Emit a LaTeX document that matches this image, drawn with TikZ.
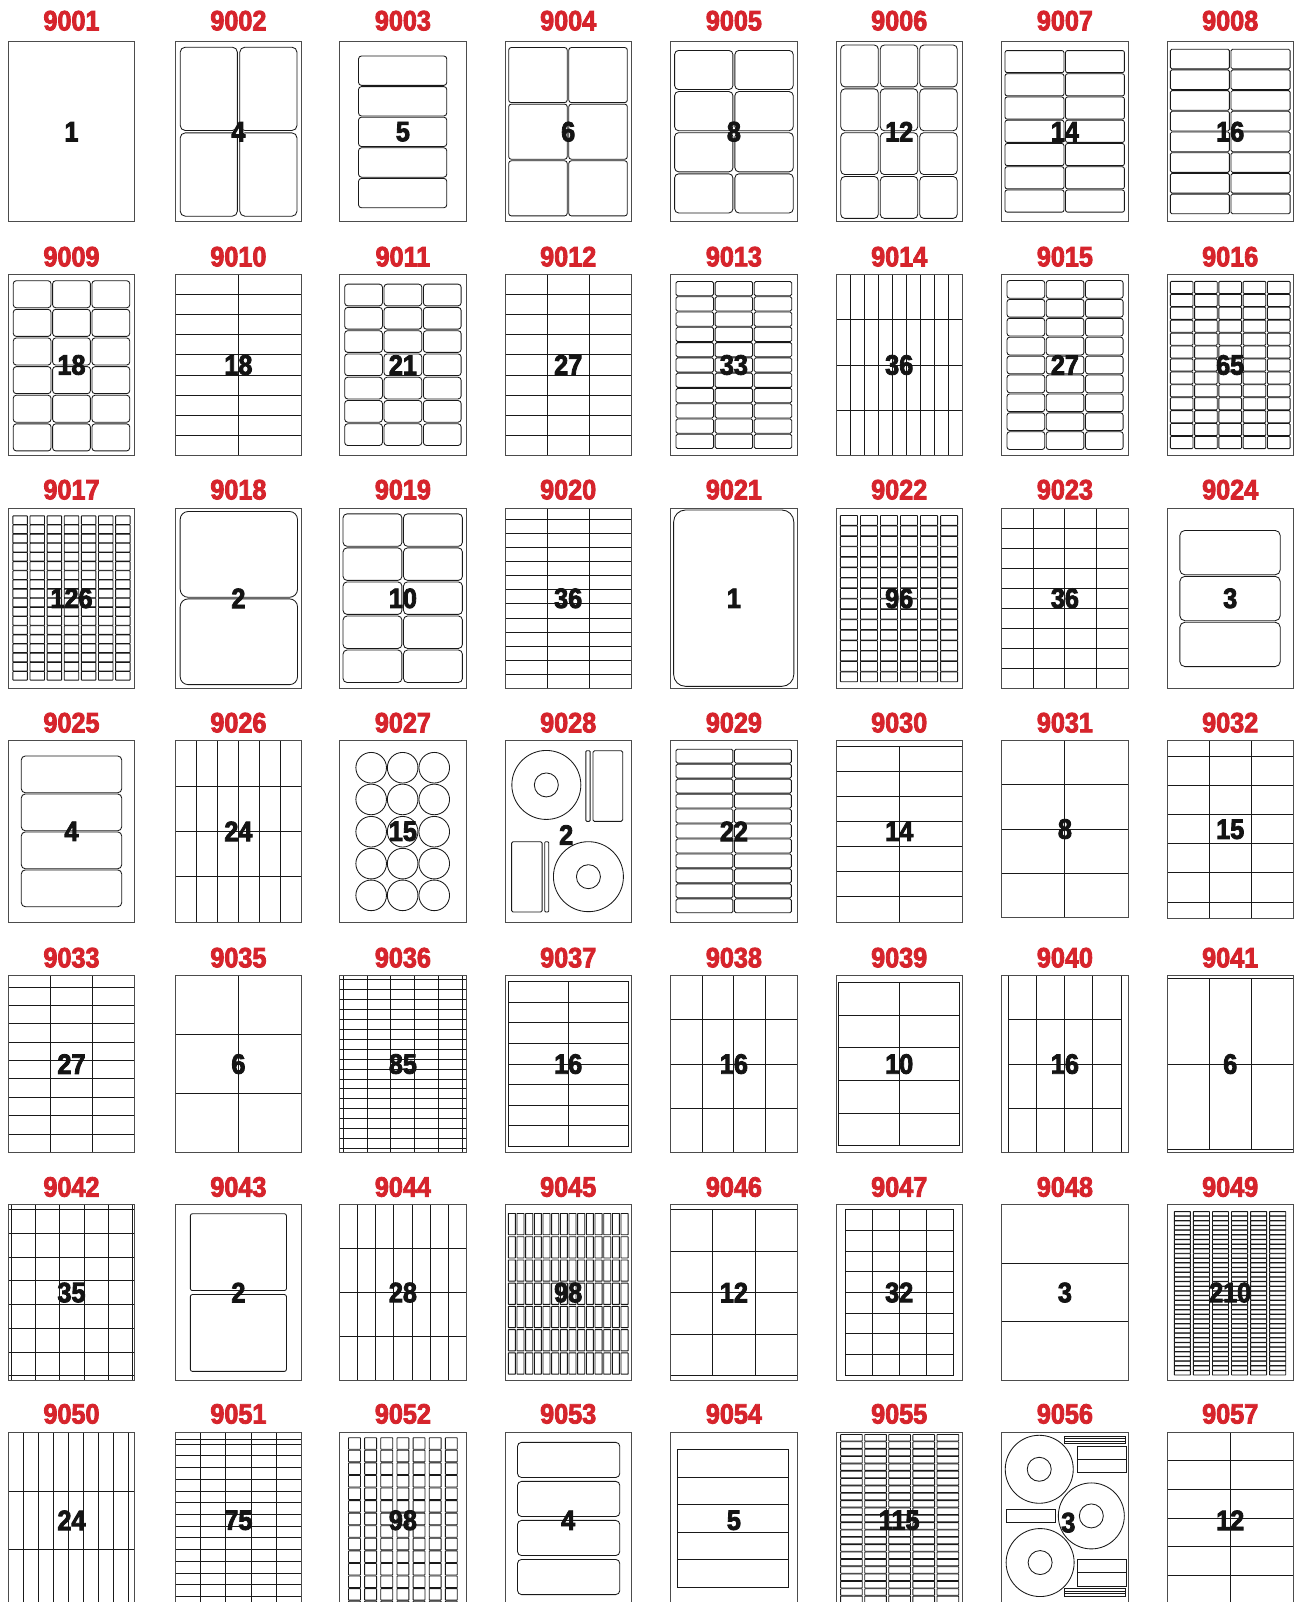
\documentclass[tikz,border=0pt]{standalone}
\usepackage{fontspec}
\usepackage{graphicx}
\usetikzlibrary{calc}
\newfontfamily\numfam{Liberation Sans}[FakeStretch=0.9,FakeBold=3]
\definecolor{ttlred}{RGB}{214,36,44}
\tikzset{
 ln/.style={draw=black!90,line width=0.85pt},
 outer/.style={draw=black!70,line width=1pt},
 ttl/.style={font=\numfam\bfseries\fontsize{28}{28}\selectfont, text=ttlred, inner sep=0pt},
 num/.style={font=\numfam\bfseries\fontsize{28}{28}\selectfont, text=black!92, inner sep=0pt},
}
% single lines (local fractional coordinates)
\newcommand\hl[3]{\draw[ln] (#2,#1) -- (#3,#1);}
\newcommand\vl[3]{\draw[ln] (#1,#2) -- (#1,#3);}
% internal horizontal lines: x0,x1,y0,y1,n
\newcommand\hlines[5]{\pgfmathtruncatemacro\nn{#5-1}%
  \foreach \k in {1,...,\nn}{\draw[ln] (#1,{#3+\k*(#4-#3)/#5}) -- (#2,{#3+\k*(#4-#3)/#5});}}
% internal vertical lines: y0,y1,x0,x1,n
\newcommand\vlines[5]{\pgfmathtruncatemacro\nn{#5-1}%
  \foreach \k in {1,...,\nn}{\draw[ln] ({#3+\k*(#4-#3)/#5},#1) -- ({#3+\k*(#4-#3)/#5},#2);}}
% grid of internal lines: x0,y0,x1,y1,nc,nr
\newcommand\gl[6]{\ifnum#5>1 \vlines{#2}{#4}{#1}{#3}{#5}\fi\ifnum#6>1 \hlines{#1}{#3}{#2}{#4}{#6}\fi}
% array of rounded labels: x0,y0,x1,y1,nc,nr,radius,insetx,insety
\newcommand\labs[9]{%
  \foreach \i in {1,...,#5}{\foreach \j in {1,...,#6}{%
    \draw[ln,rounded corners=#7] ($({#1+(\i-1)*(#3-#1)/#5},{#2+(\j-1)*(#4-#2)/#6})+(#8,-#9)$) rectangle ($({#1+\i*(#3-#1)/#5},{#2+\j*(#4-#2)/#6})+(-#8,#9)$);}}}
% sheet: [H] x0, title, count, body
\newcommand\sheet[5][\rH]{%
  \node[ttl] (t#3) at ({#2+63.2},{\rtop-\rty}) {#3};
  \begin{scope}[shift={(#2pt,-\rtop pt)},x={(126.4pt,0pt)},y={(0pt,-#1 pt)}]
    #5
    \draw[outer] (0,0) rectangle (1,1);
    \node[num] (n#3) at (0.5,0.5) {#4};
  \end{scope}}
\begin{document}
\begin{tikzpicture}[x=1pt,y=-1pt]
\useasboundingbox[fill=white] (0,0) rectangle (1296,1602);
% ---------------- row 1
\def\rtop{41.7}\def\rH{180}\def\rty{21}
\sheet{8.3}{9001}{1}{}
\sheet{175.2}{9002}{4}{\labs{0.03}{0.024}{0.973}{0.976}{2}{2}{5pt}{1.2pt}{1.2pt}}
\sheet{339.7}{9003}{5}{\labs{0.144}{0.076}{0.852}{0.926}{1}{5}{3pt}{0.6pt}{0.6pt}}
\sheet{505}{9004}{6}{\labs{0.023}{0.028}{0.974}{0.972}{2}{3}{2.5pt}{0.8pt}{0.8pt}}
\sheet{670.7}{9005}{8}{\labs{0.023}{0.043}{0.977}{0.957}{2}{4}{4pt}{1pt}{1pt}}
\sheet{836}{9006}{12}{\labs{0.03}{0.013}{0.967}{0.987}{3}{4}{4pt}{1pt}{1pt}}
\sheet{1001.7}{9007}{14}{\labs{0.02}{0.046}{0.977}{0.95}{2}{7}{2pt}{0.8pt}{0.6pt}}
\sheet{1167}{9008}{16}{\labs{0.02}{0.039}{0.98}{0.959}{2}{8}{1.5pt}{0.8pt}{0.5pt}}
% ---------------- row 2
\def\rtop{274.3}\def\rH{181.4}\def\rty{17.6}
\sheet{8.3}{9009}{18}{\labs{0.033}{0.031}{0.967}{0.978}{3}{6}{3pt}{0.8pt}{0.8pt}}
\sheet{175.2}{9010}{18}{\gl{0}{0}{1}{1}{2}{9}}
\sheet{339.7}{9011}{21}{\labs{0.033}{0.05}{0.967}{0.948}{3}{7}{3pt}{0.8pt}{0.8pt}}
\sheet{505}{9012}{27}{\gl{0}{0}{1}{1}{3}{9}}
\sheet{670.7}{9013}{33}{\labs{0.036}{0.037}{0.964}{0.963}{3}{11}{1.5pt}{0.8pt}{0.5pt}}
\sheet{836}{9014}{36}{\gl{0}{0}{1}{1}{9}{4}}
\sheet{1001.7}{9015}{27}{\labs{0.036}{0.031}{0.967}{0.969}{3}{9}{2.5pt}{0.8pt}{0.6pt}}
\sheet{1167}{9016}{65}{\labs{0.02}{0.037}{0.98}{0.963}{5}{13}{1pt}{0.8pt}{0.4pt}}
% ---------------- row 3
\def\rtop{508}\def\rH{180.7}\def\rty{18.3}
\sheet{8.3}{9017}{126}{\labs{0.026}{0.042}{0.974}{0.954}{7}{18}{0.5pt}{1.3pt}{0.25pt}}
\sheet{175.2}{9018}{2}{\labs{0.033}{0.015}{0.974}{0.982}{1}{2}{8pt}{0.8pt}{0.8pt}}
\sheet{339.7}{9019}{10}{\labs{0.02}{0.028}{0.977}{0.97}{2}{5}{4pt}{0.8pt}{0.8pt}}
\sheet{505}{9020}{36}{\vlines{0}{1}{0}{1}{3}\hl{0.061}{0}{1}\hlines{0}{1}{0.061}{1}{12}}
\sheet{670.7}{9021}{1}{\draw[ln,rounded corners=12pt] (0.023,0.011) rectangle (0.974,0.987);}
\sheet{836}{9022}{96}{\labs{0.023}{0.04}{0.974}{0.963}{6}{16}{0.5pt}{1.5pt}{0.3pt}}
\sheet{1001.7}{9023}{36}{\gl{0}{0}{1}{1}{4}{9}}
\sheet{1167}{9024}{3}{\labs{0.095}{0.12}{0.902}{0.882}{1}{3}{5pt}{0.8pt}{0.8pt}}
% ---------------- row 4
\def\rtop{740.7}\def\rH{181.3}\def\rty{18}
\sheet{8.3}{9025}{4}{\labs{0.098}{0.081}{0.902}{0.919}{1}{4}{4pt}{0.6pt}{0.6pt}}
\sheet{175.2}{9026}{24}{\gl{0}{0}{1}{1}{6}{4}}
\sheet{339.7}{9027}{15}{\foreach \cx in {0.249,0.498,0.748}{\foreach \cy in {0.149,0.324,0.502,0.678,0.853}{\draw[ln] (\cx,\cy) circle[radius=15.3pt];}}}
\sheet{505}{9028}{}{%
  \draw[ln] (0.327,0.244) circle[radius=34.5pt];
  \draw[ln] (0.327,0.244) circle[radius=12pt];
  \draw[ln,rounded corners=1.5pt] (0.696,0.055) rectangle (0.931,0.445);
  \draw[ln,rounded corners=1pt] (0.64,0.055) rectangle (0.673,0.445);
  \draw[ln,rounded corners=1.5pt] (0.052,0.557) rectangle (0.294,0.945);
  \draw[ln,rounded corners=1pt] (0.314,0.557) rectangle (0.346,0.945);
  \draw[ln] (0.66,0.75) circle[radius=35pt];
  \draw[ln] (0.66,0.75) circle[radius=12pt];
  \node[num] (n9028b) at (0.484,0.52) {2};}
\sheet{670.7}{9029}{22}{\labs{0.036}{0.044}{0.961}{0.952}{2}{11}{1.5pt}{0.8pt}{0.5pt}}
\sheet{836}{9030}{14}{\hl{0.03}{0}{1}\hlines{0}{1}{0.03}{1}{7}\vl{0.5}{0.03}{1}}
\sheet[176.7]{1001.7}{9031}{8}{\gl{0}{0}{1}{1}{2}{4}}
\sheet[177.3]{1167}{9032}{15}{\vlines{0}{1}{0}{1}{3}\hl{0.086}{0}{1}\hl{0.91}{0}{1}\hlines{0}{1}{0.086}{0.91}{5}}
% ---------------- row 5
\def\rtop{975.7}\def\rH{176.7}\def\rty{18}
\sheet{8.3}{9033}{27}{\vlines{0}{1}{0}{1}{3}\hl{0.064}{0}{1}\hlines{0}{1}{0.064}{1}{9}}
\sheet{175.2}{9035}{6}{\gl{0}{0}{1}{1}{2}{3}}
\sheet{339.7}{9036}{85}{\vl{0.026}{0}{1}\vl{0.974}{0}{1}\vlines{0}{1}{0.026}{0.974}{5}\hl{0.023}{0}{1}\hl{0.977}{0}{1}\hlines{0}{1}{0.023}{0.977}{17}}
\sheet{505}{9037}{16}{\draw[ln] (0.026,0.034) rectangle (0.974,0.966);\gl{0.026}{0.034}{0.974}{0.966}{2}{8}}
\sheet{670.7}{9038}{16}{\gl{0}{0}{1}{1}{4}{4}}
\sheet{836}{9039}{10}{\draw[ln] (0.023,0.038) rectangle (0.974,0.962);\gl{0.023}{0.038}{0.974}{0.962}{2}{5}}
\sheet{1001.7}{9040}{16}{\vl{0.053}{0}{1}\vl{0.944}{0}{1}\vlines{0}{1}{0.053}{0.944}{4}\hlines{0.053}{0.944}{0}{1}{4}}
\sheet{1167}{9041}{6}{\hl{0.015}{0}{1}\hl{0.985}{0}{1}\vlines{0.015}{0.985}{0}{1}{3}\hl{0.5}{0}{1}}
% ---------------- row 6
\def\rtop{1204.7}\def\rH{175.7}\def\rty{17.7}
\sheet{8.3}{9042}{35}{\vl{0.026}{0}{1}\vl{0.98}{0}{1}\vlines{0}{1}{0.026}{0.98}{5}\hl{0.028}{0}{1}\hl{0.973}{0}{1}\hlines{0}{1}{0.028}{0.973}{7}}
\sheet{175.2}{9043}{2}{\labs{0.12}{0.04}{0.88}{0.96}{1}{2}{2pt}{0pt}{2pt}}
\sheet{339.7}{9044}{28}{\gl{0}{0}{1}{1}{7}{4}}
\sheet{505}{9045}{98}{\labs{0.02}{0.044}{0.98}{0.97}{14}{7}{0.3pt}{0.8pt}{1pt}}
\sheet{670.7}{9046}{12}{\hl{0.028}{0}{1}\hl{0.973}{0}{1}\vlines{0.028}{0.973}{0}{1}{3}\hlines{0}{1}{0.028}{0.973}{4}}
\sheet{836}{9047}{32}{\draw[ln] (0.072,0.028) rectangle (0.931,0.97);\gl{0.072}{0.028}{0.931}{0.97}{4}{8}}
\sheet{1001.7}{9048}{3}{\hlines{0}{1}{0}{1}{3}}
\sheet{1167}{9049}{210}{\labs{0.046}{0.038}{0.951}{0.97}{6}{35}{0.3pt}{1.5pt}{0.2pt}}
% ---------------- row 7
\def\rtop{1432.3}\def\rH{176}\def\rty{18.4}
\sheet{8.3}{9050}{24}{\vl{0.947}{0}{1}\vlines{0}{1}{0}{0.947}{8}\hlines{0}{1}{0}{1}{3}}
\sheet{175.2}{9051}{75}{\hl{0.04}{0}{1}\gl{0}{0}{1}{1}{5}{15}}
\sheet{339.7}{9052}{98}{\labs{0.053}{0.028}{0.947}{1.028}{7}{14}{0.5pt}{2.1pt}{0.5pt}}
\sheet{505}{9053}{4}{\labs{0.099}{0.046}{0.908}{0.933}{1}{4}{4pt}{0pt}{1.95pt}}
\sheet{670.7}{9054}{5}{\draw[ln] (0.054,0.097) rectangle (0.932,0.881);\hlines{0.054}{0.932}{0.097}{0.881}{5}}
\sheet{836}{9055}{115}{\labs{0.027}{0.01}{0.98}{0.97}{5}{23}{0.5pt}{1.2pt}{0.4pt}}
\sheet{1001.7}{9056}{}{%
  \draw[ln] (0.297,0.21) circle[radius=34pt]; \draw[ln] (0.297,0.21) circle[radius=12pt];
  \draw[ln] (0.709,0.475) circle[radius=33pt]; \draw[ln] (0.709,0.475) circle[radius=12pt];
  \draw[ln] (0.304,0.74) circle[radius=34pt]; \draw[ln] (0.304,0.74) circle[radius=12pt];
  \draw[ln] (0.493,0.021) rectangle (0.98,0.063); \hl{0.035}{0.493}{0.98}\hl{0.049}{0.493}{0.98}
  \draw[ln] (0.595,0.078) rectangle (0.986,0.229); \hl{0.153}{0.595}{0.986}
  \draw[ln] (0.034,0.436) rectangle (0.426,0.513);
  \draw[ln] (0.595,0.722) rectangle (0.986,0.877); \hl{0.797}{0.595}{0.986}
  \draw[ln] (0.493,0.886) rectangle (0.98,0.934); \hl{0.902}{0.493}{0.98}\hl{0.918}{0.493}{0.98}
  \node[num] (n9056b) at (0.527,0.513) {3};}
\sheet{1167}{9057}{12}{\vlines{0}{1}{0}{1}{2}\hlines{0}{1}{0}{0.975}{6}}
\end{tikzpicture}
\end{document}
